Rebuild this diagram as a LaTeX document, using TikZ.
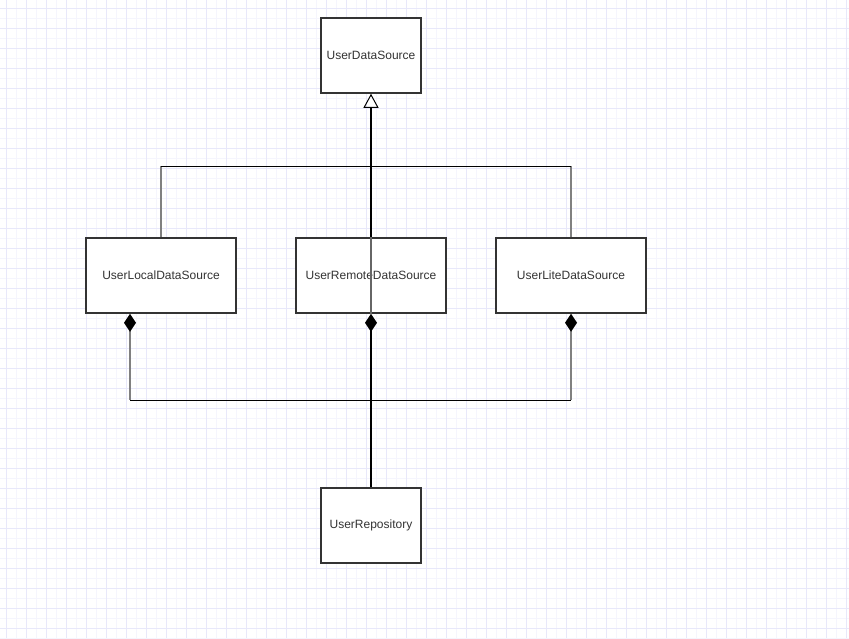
\documentclass[tikz,border=0pt]{standalone}
\usepackage{fontspec}
\setmainfont{Liberation Sans}
\usetikzlibrary{arrows.meta}
\definecolor{gridminor}{HTML}{F5F5FD}
\definecolor{gridmajor}{HTML}{E8E8FA}
\definecolor{boxline}{HTML}{333333}
\definecolor{linkgray}{HTML}{808080}
\tikzset{
  cls/.style={draw=boxline, line width=1.5pt, fill=white, minimum height=75pt,
    inner sep=0pt, text=boxline, font=\fontsize{12}{14}\selectfont},
  blackline/.style={draw=black, line width=1pt},
  blackthick/.style={draw=black, line width=2pt},
  grayline/.style={draw=linkgray, line width=2pt},
  inherit/.style={-{Triangle[open, length=14pt, width=15pt, line width=1pt]}},
  compose/.style={{Diamond[length=18pt, width=12pt, color=black]}-},
}
\begin{document}
\begin{tikzpicture}[x=1pt, y=-1pt]
  \useasboundingbox (0,0) rectangle (849,638);
  \fill[white] (0,0) rectangle (849,638);
  % grid
  \foreach \gx in {6,16,...,846} \draw[gridminor, line width=1pt] (\gx,0) -- (\gx,638);
  \foreach \gy in {8,18,...,638} \draw[gridminor, line width=1pt] (0,\gy) -- (849,\gy);
  \foreach \gx in {6,26,...,846} \draw[gridmajor, line width=1pt] (\gx,0) -- (\gx,638);
  \foreach \gy in {8,28,...,628} \draw[gridmajor, line width=1pt] (0,\gy) -- (849,\gy);

  % classes
  \node (base) [cls, minimum width=100pt] at (371, 55.5) {UserDataSource};
  \node (local) [cls, minimum width=150pt] at (161, 275.5) {UserLocalDataSource};
  \node (remote) [cls, minimum width=150pt] at (371, 275.5) {UserRemoteDataSource};
  \node (lite) [cls, minimum width=150pt] at (571, 275.5) {UserLiteDataSource};
  \node (repo) [cls, minimum width=100pt] at (371, 525.5) {UserRepository};

  % inheritance
  \coordinate (inhbar) at (0, 166);
  \draw[grayline] (local.north) -- (local.north |- inhbar);
  \draw[grayline] (lite.north) -- (lite.north |- inhbar);
  \draw[blackline] (local.north |- inhbar) -- (lite.north |- inhbar);
  \draw[blackthick, inherit] (remote.north) -- (base.south);

  % composition
  \coordinate (cmpbar) at (0, 400);
  \coordinate (localfoot) at ([xshift=-31pt]local.south);
  \draw[grayline, compose] (localfoot) -- (localfoot |- cmpbar);
  \draw[grayline, compose] (lite.south) -- (lite.south |- cmpbar);
  \draw[blackline] (localfoot |- cmpbar) -- (lite.south |- cmpbar);
  \draw[blackthick, compose] (remote.south) -- (repo.north);
  \draw[draw=linkgray!80!black, line width=1.5pt] (remote.north) -- (remote.south);
\end{tikzpicture}
\end{document}
